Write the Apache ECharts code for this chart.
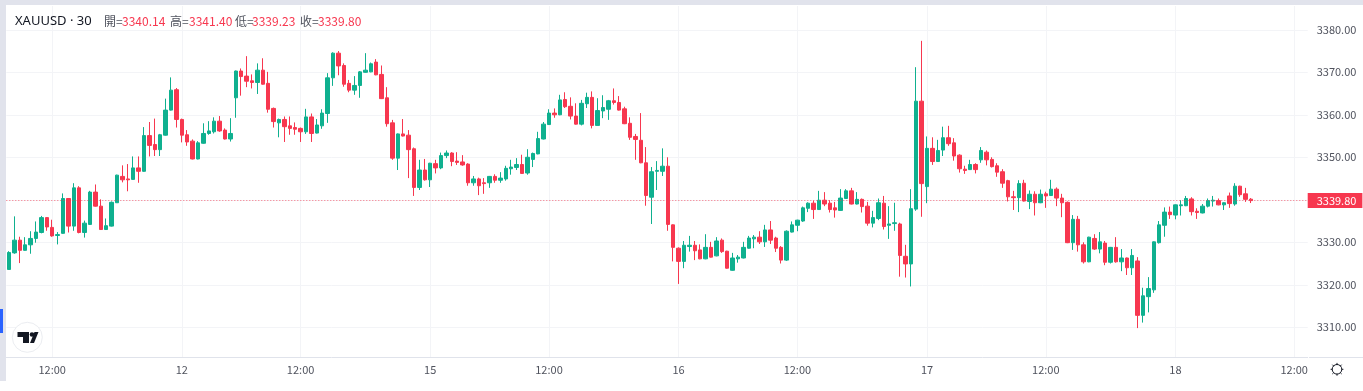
<!DOCTYPE html>
<html><head><meta charset="utf-8"><style>html,body{margin:0;padding:0;background:#fff}#c{width:1363px;height:391px}</style>
<script src="https://cdn.jsdelivr.net/npm/echarts@6/dist/echarts.min.js"></script></head><body><div id="c"></div>
<script>
const opens=[3323.6,3327.5,3330.5,3328.1,3329.4,3330.9,3332.3,3335.8,3333.5,3331.6,3332.1,3340.3,3333.8,3342.8,3332.3,3334.2,3341.8,3338.5,3333.0,3333.8,
3339.3,3345.5,3344.9,3344.8,3347.5,3346.7,3355.1,3353.0,3351.8,3355.2,3361.1,3365.9,3358.9,3355.3,3353.8,3349.6,3353.3,3355.6,3356.0,3358.5,
3356.4,3354.3,3364.0,3370.3,3369.1,3368.0,3367.6,3370.5,3367.4,3361.5,3358.1,3358.9,3357.4,3357.0,3356.8,3356.0,3359.5,3355.7,3357.4,3360.3,
3368.7,3374.5,3371.6,3367.4,3365.8,3366.9,3370.0,3370.1,3372.4,3369.5,3364.0,3358.1,3349.8,3355.5,3355.2,3352.0,3342.9,3347.0,3344.7,3348.5,
3347.5,3350.4,3351.0,3349.1,3348.9,3348.4,3344.0,3344.9,3344.0,3344.0,3345.5,3344.6,3344.9,3347.3,3347.6,3348.3,3346.3,3349.5,3350.8,3354.3,
3357.7,3360.4,3360.0,3363.6,3362.0,3359.7,3357.8,3362.6,3364.1,3357.5,3360.9,3361.3,3363.3,3362.9,3361.4,3358.0,3354.9,3354.0,3348.7,3340.6,
3346.7,3346.7,3347.9,3334.1,3328.6,3325.5,3329.0,3329.3,3328.2,3326.1,3328.8,3326.8,3330.5,3327.9,3323.4,3326.1,3326.3,3328.6,3330.8,3331.2,
3330.1,3332.9,3331.0,3328.8,3325.8,3332.4,3334.0,3335.0,3338.0,3339.2,3337.7,3339.9,3339.2,3338.1,3337.5,3340.3,3342.1,3339.0,3340.1,3338.5,
3334.5,3335.6,3339.2,3334.0,3334.4,3334.3,3326.7,3324.9,3337.8,3363.2,3343.1,3352.1,3349.0,3351.7,3354.6,3353.4,3350.5,3347.2,3347.1,3348.3,
3349.4,3351.2,3349.5,3348.0,3346.6,3344.5,3340.7,3340.5,3343.9,3339.6,3341.3,3339.3,3341.4,3341.0,3342.5,3340.4,3339.4,3329.9,3335.4,3329.4,
3325.4,3330.9,3328.4,3329.8,3325.3,3328.8,3325.4,3326.3,3324.0,3325.6,3312.8,3317.2,3318.8,3329.9,3334.0,3337.1,3336.4,3338.6,3338.6,3340.2,
3337.3,3336.9,3338.5,3339.7,3339.8,3338.8,3340.9,3339.0,3343.2,3341.4,3340.14];
const closes=[3327.6,3330.5,3328.1,3329.4,3330.9,3332.4,3335.8,3333.6,3331.5,3331.8,3340.3,3333.8,3342.8,3332.3,3334.5,3341.8,3338.5,3333.0,3333.9,3339.4,
3345.8,3344.7,3344.7,3347.5,3346.7,3355.1,3352.8,3351.8,3355.3,3361.1,3365.8,3358.9,3355.2,3353.6,3349.6,3353.4,3355.6,3356.2,3358.5,3356.2,
3354.3,3355.6,3370.3,3369.0,3367.9,3367.6,3370.5,3367.2,3361.3,3358.4,3358.9,3357.2,3356.8,3356.6,3356.0,3359.5,3355.6,3357.6,3360.4,3368.7,
3374.5,3371.5,3367.2,3365.8,3366.9,3370.1,3370.5,3372.0,3369.4,3363.8,3357.9,3349.8,3355.5,3355.0,3351.8,3342.9,3347.0,3344.7,3348.6,3347.5,
3350.4,3351.0,3349.0,3348.8,3348.2,3344.0,3344.9,3343.3,3343.8,3345.5,3344.6,3345.1,3347.4,3347.7,3348.3,3346.2,3350.0,3350.9,3354.4,3357.8,
3360.4,3360.0,3363.5,3361.9,3359.7,3357.8,3362.7,3364.1,3357.5,3361.0,3361.7,3363.3,3362.9,3361.1,3357.9,3354.7,3354.2,3348.7,3341.0,3346.6,
3346.9,3347.9,3334.2,3328.8,3325.5,3329.3,3329.3,3328.0,3326.1,3328.8,3326.5,3330.3,3327.8,3323.9,3326.3,3326.5,3328.8,3331.0,3331.2,3330.1,
3332.9,3330.5,3328.6,3325.8,3332.6,3334.1,3335.2,3338.1,3339.2,3337.7,3339.9,3339.0,3337.7,3337.6,3340.4,3342.1,3339.0,3340.1,3338.4,3334.5,
3335.8,3339.3,3333.7,3334.3,3334.6,3326.9,3324.9,3337.9,3363.2,3343.8,3352.1,3349.0,3351.6,3354.6,3353.2,3350.3,3347.3,3346.9,3348.3,3347.1,
3351.6,3349.4,3347.8,3346.5,3343.9,3340.7,3340.5,3343.8,3339.7,3341.3,3339.3,3341.3,3340.9,3342.5,3340.4,3339.3,3329.9,3335.4,3329.4,3325.4,
3331.2,3328.4,3330.1,3325.3,3328.8,3325.4,3326.3,3324.0,3326.9,3312.8,3317.4,3319.1,3330.1,3334.1,3337.1,3336.5,3338.8,3338.8,3340.3,3337.2,
3337.0,3338.5,3339.8,3339.9,3338.8,3339.3,3339.1,3343.2,3341.2,3340.1,3339.80];
const lows=[3323.6,3327.3,3325.1,3328.0,3327.3,3329.9,3332.1,3332.7,3331.3,3329.5,3332.0,3332.3,3332.7,3332.1,3331.1,3334.1,3338.4,3332.9,3332.9,3333.7,
3339.3,3344.1,3342.0,3344.7,3344.0,3346.6,3350.2,3350.3,3350.3,3355.1,3361.0,3357.0,3353.5,3352.7,3349.5,3349.5,3353.2,3355.3,3355.6,3356.0,
3354.2,3353.7,3359.3,3364.5,3366.5,3366.2,3364.9,3367.1,3360.5,3357.0,3354.7,3353.6,3355.3,3355.3,3353.6,3355.5,3353.6,3355.6,3356.7,3358.1,
3366.8,3369.3,3366.6,3365.3,3364.7,3364.0,3369.9,3370.0,3369.3,3363.7,3357.2,3349.4,3347.0,3354.9,3345.1,3340.9,3342.3,3344.5,3343.0,3346.2,
3347.2,3349.8,3347.9,3348.2,3348.0,3343.3,3343.3,3341.1,3341.4,3342.8,3344.0,3344.0,3344.5,3345.9,3347.0,3346.1,3345.9,3347.7,3350.7,3354.2,
3357.6,3359.3,3359.9,3361.6,3358.9,3357.7,3357.5,3361.6,3356.8,3357.5,3359.2,3358.8,3362.4,3361.0,3357.8,3354.1,3349.4,3348.6,3338.6,3334.3,
3342.3,3345.6,3332.7,3325.5,3320.2,3323.9,3327.8,3325.8,3326.0,3326.0,3326.4,3326.7,3327.5,3323.8,3323.3,3325.2,3326.2,3328.5,3328.6,3329.6,
3328.9,3329.6,3327.7,3325.0,3325.6,3332.3,3332.6,3334.8,3337.1,3335.5,3337.6,3338.5,3337.0,3335.8,3337.4,3340.2,3338.9,3338.9,3337.0,3333.9,
3333.5,3335.2,3333.0,3330.8,3332.7,3321.9,3321.7,3319.6,3337.4,3336.0,3339.2,3348.2,3348.9,3350.3,3352.7,3349.2,3346.4,3346.1,3347.0,3346.2,
3348.7,3348.1,3347.6,3345.4,3342.8,3339.6,3337.6,3337.1,3339.6,3337.8,3336.3,3339.2,3338.1,3340.9,3338.5,3335.9,3329.8,3328.2,3327.8,3325.0,
3325.3,3328.2,3327.4,3324.6,3325.0,3325.2,3323.2,3322.3,3322.3,3309.8,3311.1,3313.5,3318.1,3329.7,3331.3,3335.5,3335.4,3336.3,3338.5,3336.3,
3335.5,3336.8,3338.2,3338.4,3338.7,3337.6,3338.1,3338.6,3340.7,3339.5,3339.23];
const highs=[3327.9,3336.1,3331.3,3331.2,3332.6,3334.9,3336.2,3335.9,3335.3,3332.4,3341.5,3340.4,3343.9,3343.2,3335.1,3342.1,3343.6,3340.1,3335.6,3339.6,
3345.9,3348.1,3348.4,3350.2,3350.2,3357.1,3358.3,3359.1,3355.5,3363.8,3368.8,3366.3,3359.1,3356.4,3354.2,3353.8,3358.0,3358.5,3359.4,3359.7,
3356.8,3359.2,3370.4,3370.9,3373.8,3369.5,3372.1,3373.3,3370.1,3361.7,3359.1,3359.6,3359.6,3358.2,3357.0,3361.4,3360.3,3359.0,3361.3,3369.8,
3374.7,3375.0,3372.1,3368.2,3369.1,3370.3,3374.5,3372.3,3373.1,3371.6,3366.5,3358.8,3355.6,3359.0,3356.4,3352.3,3349.4,3349.6,3348.7,3349.4,
3351.1,3351.6,3351.2,3351.2,3350.5,3348.6,3345.6,3345.2,3345.1,3345.6,3346.0,3346.5,3348.0,3349.4,3349.8,3350.6,3351.9,3351.1,3356.0,3358.3,
3361.3,3361.5,3364.7,3365.3,3364.1,3362.7,3363.5,3365.2,3365.5,3363.9,3364.6,3363.5,3366.2,3364.4,3361.9,3359.4,3355.5,3360.4,3352.4,3347.7,
3349.1,3352.1,3350.0,3334.2,3328.8,3330.3,3331.5,3330.3,3329.5,3331.9,3330.1,3331.2,3330.9,3328.0,3327.5,3327.0,3330.1,3331.5,3331.7,3332.6,
3334.1,3335.0,3331.3,3329.1,3332.8,3334.9,3335.3,3338.4,3339.4,3339.8,3342.1,3341.8,3339.9,3339.5,3342.5,3342.5,3342.8,3341.8,3340.3,3339.5,
3337.4,3340.3,3340.9,3338.5,3339.3,3334.6,3329.4,3342.5,3371.2,3377.4,3354.9,3354.7,3354.1,3357.2,3357.4,3354.5,3350.7,3348.0,3349.4,3348.6,
3352.4,3351.6,3350.0,3348.6,3347.2,3344.7,3342.1,3344.6,3344.7,3342.2,3342.0,3342.4,3341.9,3344.7,3342.9,3341.4,3339.6,3336.4,3336.2,3330.0,
3331.3,3331.9,3332.4,3330.3,3328.9,3331.2,3328.4,3326.4,3328.4,3326.5,3319.3,3321.8,3330.2,3335.0,3338.2,3338.4,3338.9,3339.9,3340.9,3340.6,
3338.0,3339.0,3340.3,3340.9,3340.3,3339.4,3341.7,3343.9,3343.3,3342.8,3340.4];
const slotCount=241;
const timeLabels={8:'12:00',32:'12',54:'12:00',78:'15',100:'12:00',124:'16',146:'12:00',170:'17',192:'12:00',216:'18',238:'12:00'};
const priceTicks=[3310,3320,3330,3340,3350,3360,3370,3380];
const lastPrice=3339.80;
const lastLabel='3339.80';
const ohlcText=[['開=','3340.14',104,122],['高=','3341.40',170,189],['低=','3339.23',235,252],['收=','3339.80',300,318]];

const UP='#0FB08F',DOWN='#F7374F',TXT='#50535E',GRID='#F3F4F7',LINE='#E0E3EB',BAND='#E1E3EC';
const FONT='"Noto Sans CJK TC","Open Sans",sans-serif';
const categories=Array.from({length:slotCount},(_,i)=>timeLabels[i]||'');
const candles=opens.map((o,i)=>[o,closes[i],lows[i],highs[i]]);
const showAt=i=>!!timeLabels[i];

const txt=(x,y,text,fill,size,font)=>({type:'text',x,y,silent:true,z:10,style:{text,fill,font:`${size||12}px ${font||FONT}`,textVerticalAlign:'middle'}});
const gfx=[
 {type:'rect',shape:{x:0,y:0,width:1363,height:5},style:{fill:BAND},z:9,silent:true},
 {type:'rect',shape:{x:0,y:0,width:6,height:381},style:{fill:BAND},z:9,silent:true},
 {type:'rect',shape:{x:0,y:309,width:3,height:24},style:{fill:'#2962FF'},z:10,silent:true},
 {type:'line',shape:{x1:1309,y1:357.5,x2:1363,y2:357.5},style:{stroke:LINE,lineWidth:1},z:9,silent:true},
 txt(15,21,'XAUUSD · 30','#131722',13,'"Noto Sans",sans-serif')
];
ohlcText.forEach(([k,v,x1,x2])=>{gfx.push(txt(x1,21,k,TXT,12));gfx.push(txt(x2,21,v,DOWN,12));});
gfx.push({type:'circle',shape:{cx:27.3,cy:337.3,r:15},style:{fill:'#fff',stroke:'#EBEDF1',lineWidth:1},z:10,silent:true});
gfx.push({type:'polygon',shape:{points:[[17.5,332],[29,332],[29,343],[23,343],[23,337],[17.5,337]]},style:{fill:'#131722'},z:11,silent:true});
gfx.push({type:'circle',shape:{cx:32,cy:334.5,r:2.3},style:{fill:'#131722'},z:11,silent:true});
gfx.push({type:'polygon',shape:{points:[[30,343],[34,343],[38.5,332],[34.5,332]]},style:{fill:'#131722'},z:11,silent:true});
gfx.push({type:'circle',shape:{cx:1337,cy:369.3,r:4.8},style:{fill:'#fff',stroke:'#131722',lineWidth:1},z:10,silent:true});
[[0,-6.4,0,-4.5],[0,6.4,0,4.5],[-6.4,0,-4.5,0],[6.4,0,4.5,0],[-4.6,-4.6,-3.2,-3.2],[4.6,-4.6,3.2,-3.2],[-4.6,4.6,-3.2,3.2],[4.6,4.6,3.2,3.2]].forEach(s=>{
 gfx.push({type:'line',shape:{x1:1337+s[0],y1:369.3+s[1],x2:1337+s[2],y2:369.3+s[3]},style:{stroke:'#131722',lineWidth:1},z:10,silent:true});
});

const chart=echarts.init(document.getElementById('c'),null,{renderer:'canvas'});
chart.setOption({
 animation:false,
 backgroundColor:'#fff',
 graphic:gfx,
 grid:{left:6.3,top:6,width:1301.4,height:351,containLabel:false},
 xAxis:{type:'category',data:categories,boundaryGap:true,
  axisLine:{show:true,lineStyle:{color:LINE,width:1}},axisTick:{show:false,alignWithLabel:true,interval:(i)=>showAt(i)},
  axisLabel:{interval:(i)=>showAt(i),color:TXT,fontSize:11,fontFamily:FONT,margin:7,hideOverlap:false},
  splitLine:{show:true,alignWithLabel:true,interval:(i)=>showAt(i),lineStyle:{color:GRID,width:1}}},
 yAxis:{type:'value',position:'right',min:3303,max:3385.6,scale:true,
  axisLine:{show:false},
  axisTick:{show:false,customValues:priceTicks},
  axisLabel:{customValues:priceTicks,color:TXT,fontSize:11,fontFamily:FONT,margin:9,formatter:v=>v.toFixed(2)},
  splitLine:{show:true,lineStyle:{color:GRID,width:1}}},
 series:[{type:'candlestick',data:candles,barWidth:4,clip:true,
  itemStyle:{color:UP,color0:DOWN,borderColor:UP,borderColor0:DOWN,borderWidth:1},
  markLine:{silent:true,symbol:'none',animation:false,
   lineStyle:{color:'rgba(247,55,79,0.7)',type:[1,2],width:1},
   label:{show:true,position:'end',formatter:lastLabel,color:'#fff',backgroundColor:DOWN,fontSize:11,fontFamily:FONT,padding:[2,6,2,9],distance:0},
   data:[{yAxis:lastPrice}]}}]
});
</script></body></html>
